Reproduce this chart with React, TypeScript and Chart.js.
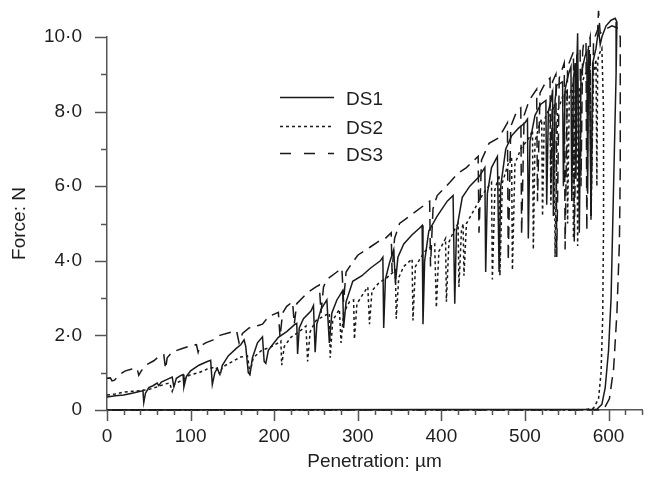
import React, { useEffect, useRef } from 'react';
import { Chart, registerables } from 'chart.js';

Chart.register(...registerables);

// ---- data ----
const seriesNames = ['DS1', 'DS2', 'DS3'];

// DS1 (solid): [penetration µm, force N]
const ds1: number[][] = [
  [0, 0.35], [10, 0.38], [20, 0.4], [30, 0.45], [40, 0.5], [43, 0.52], [44, 0.2], [46, 0.45], [50, 0.6],
  [55, 0.65], [60, 0.72], [62, 0.65], [65, 0.75], [72, 0.82], [78, 0.88], [80, 0.62], [83, 0.85], [88, 0.92],
  [91, 0.95], [92, 0.62], [95, 0.9], [100, 1.05], [110, 1.2], [120, 1.3], [124, 1.33], [126, 0.68], [129, 1.0],
  [132, 1.12], [134, 1.0], [136, 1.0], [138, 1.2], [145, 1.45], [155, 1.66], [160, 1.75], [164, 1.88], [166, 1.7],
  [169, 1.0], [171, 0.95], [174, 1.4], [180, 1.8], [186, 1.96], [188, 1.3], [190, 1.25], [193, 1.6], [198, 1.75],
  [205, 1.95], [215, 2.1], [225, 2.3], [227, 2.32], [228, 1.5], [230, 2.2], [235, 2.45], [244, 2.65], [247, 2.8],
  [249, 1.55], [251, 2.3], [256, 2.7], [263, 2.95], [266, 1.8], [269, 2.6], [275, 2.95], [282, 3.2], [283, 2.2],
  [286, 2.9], [294, 3.45], [305, 3.6], [315, 3.8], [327, 4.0], [330, 4.1], [331, 2.2], [333, 3.5], [338, 3.95],
  [343, 4.3], [345, 3.4], [348, 4.1], [355, 4.45], [365, 4.7], [375, 4.9], [377, 4.95], [378, 2.3], [380, 4.0],
  [385, 4.8], [395, 5.2], [407, 5.6], [414, 5.75], [416, 2.85], [418, 4.8], [425, 5.7], [434, 6.0], [445, 6.25],
  [452, 6.5], [453, 3.7], [455, 5.8], [460, 6.5], [467, 6.8], [469, 3.7], [471, 6.0], [477, 7.0], [484, 7.35],
  [492, 7.55], [500, 7.7], [503, 7.8], [504, 4.6], [506, 7.2], [512, 7.9], [519, 8.2], [525, 8.3], [526, 5.5],
  [528, 8.0], [533, 8.5], [534, 5.2], [536, 8.3], [538, 8.7], [545, 8.8], [546, 6.0], [548, 8.6], [552, 9.0],
  [555, 9.2], [556, 5.6], [558, 8.9], [560, 9.3], [561, 6.2], [562, 9.2], [563, 10.1], [565, 4.75], [567, 9.0],
  [572, 9.5], [574, 9.6], [575, 5.8], [576, 9.4], [577, 9.65], [579, 5.2], [581, 9.3], [585, 9.7], [588, 10.2],
  [590, 9.8], [592, 10.0], [597, 10.3], [603, 10.45], [608, 10.5], [610, 10.4], [609, 9.0], [607, 7.0], [605, 5.0],
  [603, 3.0], [600, 1.6], [596, 0.6], [592, 0.15], [586, 0.02], [0, 0],
];

// DS2 (dotted)
const ds2: number[][] = [
  [0, 0.4], [10, 0.43], [20, 0.48], [30, 0.5], [40, 0.52], [50, 0.55], [60, 0.62], [70, 0.7], [75, 0.72],
  [78, 0.5], [81, 0.7], [90, 0.8], [100, 0.95], [110, 1.0], [120, 1.1], [130, 1.15], [135, 0.95], [138, 1.15],
  [150, 1.3], [160, 1.42], [168, 1.45], [171, 1.0], [175, 1.4], [185, 1.6], [195, 1.68], [205, 1.8], [208, 1.85],
  [209, 1.2], [212, 1.7], [220, 1.95], [230, 2.1], [238, 2.25], [240, 1.3], [243, 2.1], [250, 2.4], [258, 2.5],
  [266, 2.6], [267, 1.4], [270, 2.4], [278, 2.7], [280, 1.8], [283, 2.6], [290, 2.9], [295, 2.95], [296, 1.9],
  [299, 2.85], [306, 3.1], [312, 3.3], [314, 2.3], [317, 3.2], [325, 3.4], [335, 3.55], [345, 3.75], [346, 2.45],
  [349, 3.55], [355, 3.85], [365, 4.05], [366, 2.4], [369, 3.85], [380, 4.25], [392, 4.45], [394, 2.75],
  [397, 4.25], [405, 4.6], [406, 2.9], [409, 4.5], [415, 4.8], [420, 5.0], [421, 3.3], [424, 4.8], [426, 5.0],
  [427, 3.6], [430, 5.0], [440, 5.4], [450, 5.8], [460, 6.1], [461, 3.5], [464, 5.9], [469, 6.3], [470, 3.6],
  [473, 6.1], [480, 6.6], [484, 6.8], [485, 3.75], [488, 6.6], [495, 7.0], [505, 7.3], [509, 7.5], [510, 4.3],
  [512, 7.2], [518, 7.7], [520, 7.8], [521, 5.2], [523, 7.7], [525, 7.9], [530, 8.1], [531, 5.5], [533, 8.0],
  [535, 8.2], [536, 4.1], [539, 8.0], [545, 8.4], [550, 8.6], [551, 5.0], [553, 8.4], [557, 8.7], [558, 4.6],
  [560, 8.6], [562, 8.8], [563, 4.4], [565, 8.6], [572, 9.0], [578, 9.2], [579, 5.1], [582, 9.0], [585, 9.4],
  [586, 6.0], [587, 9.3], [588, 9.5], [592, 9.7], [594, 8.0], [594, 5.0], [593, 2.5], [591, 1.0], [588, 0.3],
  [582, 0.05], [570, 0], [0, 0],
];

// DS3 (dashed)
const ds3: number[][] = [
  [0, 0.85], [4, 0.86], [6, 0.78], [9, 0.8], [15, 0.95], [22, 1.05], [30, 1.1], [36, 1.12], [38, 0.93],
  [41, 1.05], [48, 1.22], [56, 1.32], [63, 1.45], [68, 1.48], [70, 1.1], [72, 1.4], [78, 1.55], [90, 1.65],
  [100, 1.72], [107, 1.75], [109, 1.55], [111, 1.7], [118, 1.8], [127, 1.88], [135, 2.0], [147, 2.08],
  [155, 2.12], [158, 1.8], [162, 2.05], [170, 2.2], [180, 2.26], [186, 2.3], [193, 2.5], [205, 2.62],
  [207, 1.95], [210, 2.6], [215, 2.78], [222, 2.9], [224, 2.3], [227, 2.85], [240, 3.15], [250, 3.3],
  [254, 3.35], [256, 2.6], [259, 3.3], [263, 3.5], [275, 3.7], [281, 3.8], [283, 2.9], [286, 3.7], [292, 3.9],
  [300, 4.15], [315, 4.37], [327, 4.55], [333, 4.6], [340, 4.75], [341, 3.7], [344, 4.6], [350, 5.0],
  [365, 5.25], [380, 5.5], [386, 5.6], [387, 3.85], [390, 5.4], [395, 5.75], [410, 6.1], [420, 6.35],
  [430, 6.5], [444, 6.8], [445, 4.75], [448, 6.7], [457, 7.15], [469, 7.3], [479, 7.7], [480, 4.0], [483, 7.6],
  [490, 8.0], [495, 8.1], [496, 4.7], [499, 7.9], [505, 8.3], [514, 8.6], [515, 5.6], [518, 8.5], [525, 8.8],
  [530, 8.9], [531, 5.8], [533, 8.8], [537, 9.0], [538, 4.1], [541, 8.9], [547, 9.3], [548, 4.3], [551, 9.2],
  [558, 9.6], [559, 4.5], [562, 9.5], [566, 9.7], [567, 6.0], [569, 9.6], [570, 9.8], [573, 9.9], [574, 4.8],
  [576, 9.8], [578, 10.0], [579, 5.2], [582, 9.9], [587, 10.2], [588, 10.7], [590, 10.1], [596, 10.2],
  [604, 10.3], [610, 10.25], [614, 10.0], [614, 6.5], [613, 4.5], [610, 2.6], [606, 1.1], [601, 0.3],
  [595, 0.05], [588, 0], [0, 0],
];

const xTickLabels: Record<number, string> = { 0: '0', 100: '100', 200: '200', 300: '300', 400: '400', 500: '500', 600: '600' };
const yTickLabels: Record<number, string> = { 0: '0', 2: '2·0', 4: '4·0', 6: '6·0', 8: '8·0', 10: '10·0' };
const xTitle = 'Penetration: µm';
const yTitle = 'Force: N';

// ---- styles ----
const FONT = '"Liberation Sans", Arial, Helvetica, sans-serif';
const TEXT = '#1e1e1e';
const AXIS = '#555555';
const LINE = '#1a1a1a';
const DASHES = [[], [3, 3], [12, 7]];
const LEGEND_DASHES = [[], [3, 3], [11, 13]];

const decorPlugin = {
  id: 'decor',
  afterDraw(chart: any) {
    const { ctx, chartArea, scales } = chart;
    const x = scales.x;
    const y = scales.y;
    ctx.save();
    ctx.strokeStyle = AXIS;
    ctx.lineWidth = 1.5;
    ctx.setLineDash([]);
    ctx.beginPath();
    x.ticks.forEach((t: any) => {
      const v = Math.round(t.value);
      const px = Math.round(x.getPixelForValue(v)) + 0.5;
      const len = v % 100 === 0 ? 11 : 5;
      ctx.moveTo(px, chartArea.bottom);
      ctx.lineTo(px, chartArea.bottom + len);
    });
    y.ticks.forEach((t: any) => {
      const v = Math.round(t.value);
      const py = Math.round(y.getPixelForValue(v)) + 0.5;
      const len = v % 2 === 0 ? 12 : 6;
      ctx.moveTo(chartArea.left, py);
      ctx.lineTo(chartArea.left - len, py);
    });
    ctx.stroke();

    // legend
    const legendRows = [97, 126, 153];
    ctx.font = `19px ${FONT}`;
    ctx.textBaseline = 'middle';
    ctx.textAlign = 'left';
    seriesNames.forEach((name, i) => {
      ctx.strokeStyle = LINE;
      ctx.lineWidth = 1.5;
      ctx.setLineDash(LEGEND_DASHES[i]);
      ctx.beginPath();
      ctx.moveTo(280, legendRows[i] + 0.5);
      ctx.lineTo(334, legendRows[i] + 0.5);
      ctx.stroke();
      ctx.fillStyle = TEXT;
      ctx.fillText(name, 346, legendRows[i] + 3);
    });
    ctx.restore();
  },
};

export default function App() {
  const ref = useRef<HTMLCanvasElement | null>(null);

  useEffect(() => {
    if (!ref.current) return;
    const all = [ds1, ds2, ds3];
    const chart = new Chart(ref.current, {
      type: 'scatter',
      data: {
        datasets: all.map((d, i) => ({
          label: seriesNames[i],
          data: d.map(([px, py]) => ({ x: px, y: py })),
          showLine: true,
          borderColor: LINE,
          backgroundColor: LINE,
          borderWidth: 1.5,
          borderDash: DASHES[i],
          pointRadius: 0,
          pointHoverRadius: 0,
          tension: 0,
          clip: false as any,
        })),
      },
      options: {
        responsive: false,
        animation: false,
        events: [],
        layout: { padding: { top: 37, right: 0, left: 0, bottom: 0 } },
        plugins: { legend: { display: false }, tooltip: { enabled: false } },
        scales: {
          x: {
            type: 'linear',
            min: 0,
            max: 640,
            afterFit: (s: any) => { s.height = 71; },
            grid: { display: false, drawTicks: false },
            border: { display: true, color: AXIS, width: 1.5 },
            ticks: {
              stepSize: 20,
              autoSkip: false,
              maxRotation: 0,
              padding: 15,
              color: TEXT,
              font: { family: FONT, size: 19 },
              callback: (v: any) => xTickLabels[Math.round(Number(v))] ?? '',
            },
            title: {
              display: true,
              text: xTitle,
              color: TEXT,
              font: { family: FONT, size: 19 },
              padding: { top: 0, bottom: 8 },
            },
          },
          y: {
            type: 'linear',
            min: 0,
            max: 10,
            afterFit: (s: any) => { s.width = 107; },
            grid: { display: false, drawTicks: false },
            border: { display: true, color: AXIS, width: 1.5 },
            ticks: {
              stepSize: 1,
              autoSkip: false,
              padding: 25,
              color: TEXT,
              font: { family: FONT, size: 19 },
              callback: (v: any) => yTickLabels[Math.round(Number(v))] ?? '',
            },
            title: {
              display: true,
              text: yTitle,
              color: TEXT,
              font: { family: FONT, size: 19 },
              padding: { top: 8, bottom: 0 },
            },
          },
        },
      } as any,
      plugins: [decorPlugin],
    });
    return () => chart.destroy();
  }, []);

  return (
    <div style={{ position: 'fixed', left: 0, top: 0, width: 657, height: 481, background: '#fff' }}>
      <canvas ref={ref} width={657} height={481} style={{ display: 'block' }} />
    </div>
  );
}
